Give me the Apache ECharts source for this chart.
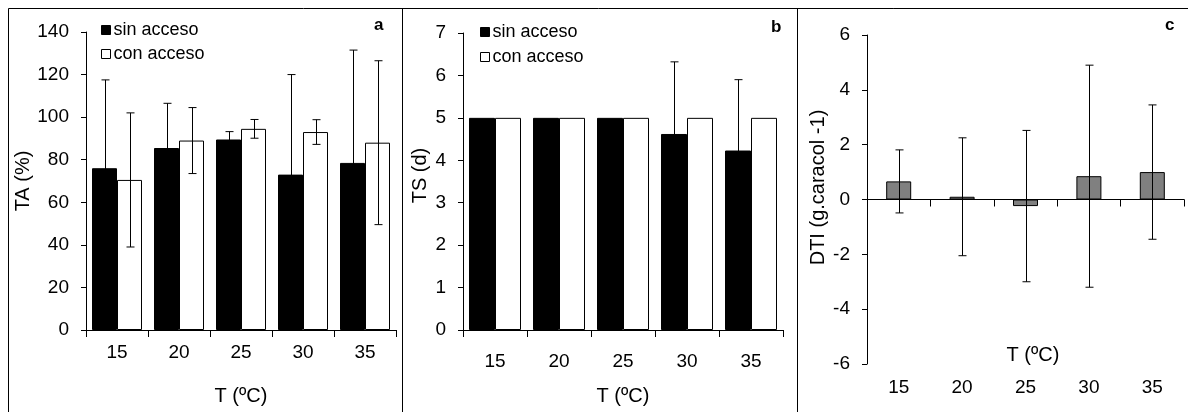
<!DOCTYPE html>
<html>
<head>
<meta charset="utf-8">
<script src="https://cdn.jsdelivr.net/npm/echarts@6/dist/echarts.min.js"></script>
<style>html,body{margin:0;padding:0;background:#fff}#c{width:1188px;height:412px}</style>
</head>
<body>
<div id="c"></div>
<script>
const categories = ['15', '20', '25', '30', '35'];
const seriesNames = ['sin acceso', 'con acceso'];
// Panel a: TA (%)
const taSin = [76, 85.5, 89.5, 73, 78.5];
const taSinSd = [41.5, 21, 3.7, 47, 53];
const taCon = [70.5, 89, 94.5, 93, 88];
const taConSd = [31.5, 15.5, 4.4, 5.8, 38.5];
// Panel b: TS (d)
const tsSin = [5, 5, 5, 4.62, 4.23];
const tsSinSd = [0, 0, 0, 1.7, 1.67];
const tsCon = [5, 5, 5, 5, 5];
const tsConSd = [0, 0, 0, 0, 0];
// Panel c: DTI
const dti = [0.66, 0.1, -0.24, 0.85, 1.0];
const dtiSd = [1.15, 2.15, 2.76, 4.05, 2.45];

const FONT = 'Liberation Sans, Arial, sans-serif';
const chart = echarts.init(document.getElementById('c'), null, {renderer: 'canvas'});

function errRender(offset) {
  return function (params, api) {
    const i = api.value(0), m = api.value(1), s = api.value(2);
    if (!s) return null;
    const top = api.coord([i, m + s]);
    const bot = api.coord([i, m - s]);
    const x = Math.round(top[0] + offset) + 0.5;
    const cap = 4;
    const st = {stroke: '#000', lineWidth: 1};
    return {type: 'group', children: [
      {type: 'line', shape: {x1: x, y1: top[1], x2: x, y2: bot[1]}, style: st},
      {type: 'line', shape: {x1: x - cap, y1: top[1], x2: x + cap, y2: top[1]}, style: st},
      {type: 'line', shape: {x1: x - cap, y1: bot[1], x2: x + cap, y2: bot[1]}, style: st}
    ]};
  };
}
function errData(m, s) { return categories.map((c, i) => [i, m[i], s[i]]); }

const axisLine = {show: true, onZero: true, lineStyle: {color: '#000', width: 1}};
const tickLabel = {color: '#000', fontSize: 19, fontFamily: FONT};
const nameStyle = {color: '#000', fontSize: 20, fontFamily: FONT};

function xCat(gridIndex, margin, extra) {
  return Object.assign({
    type: 'category', gridIndex, data: categories, boundaryGap: true,
    axisLine: axisLine,
    axisTick: {show: true, length: 7, inside: false, lineStyle: {color: '#000'}},
    axisLabel: Object.assign({margin}, tickLabel),
    splitLine: {show: false},
    name: 'T (ºC)', nameLocation: 'middle', nameGap: 56, nameTextStyle: nameStyle
  }, extra || {});
}
function yVal(gridIndex, min, max, interval, name, gap, pad) {
  return {
    type: 'value', gridIndex, min, max, interval,
    axisLine: {show: true, lineStyle: {color: '#000', width: 1}},
    axisTick: {show: true, length: 5, lineStyle: {color: '#000'}},
    axisLabel: Object.assign({margin: 17}, tickLabel),
    splitLine: {show: false},
    name, nameLocation: 'middle', nameRotate: 90, nameGap: gap,
    nameTextStyle: Object.assign({padding: pad}, nameStyle)
  };
}

const blackStyle = {color: '#000', borderColor: '#000', borderWidth: 1};
const whiteStyle = {color: '#fff', borderColor: '#000', borderWidth: 1};
const grayStyle = {color: '#808080', borderColor: '#000', borderWidth: 1};

const legendBase = {
  orient: 'vertical', icon: 'rect', itemWidth: 9, itemHeight: 9, itemGap: 4,
  textStyle: {color: '#000', fontSize: 18, fontFamily: FONT, lineHeight: 20, padding: [0, 0, 0, -2]},
  selectedMode: false,
  data: [
    {name: seriesNames[0], itemStyle: blackStyle},
    {name: seriesNames[1], itemStyle: whiteStyle}
  ]
};

const option = {
  animation: false,
  backgroundColor: '#fff',
  textStyle: {fontFamily: FONT},
  grid: [
    {left: 86, top: 32, width: 310, height: 298, outerBoundsMode: 'none', containLabel: false},
    {left: 463, top: 33, width: 320, height: 297, outerBoundsMode: 'none', containLabel: false},
    {left: 867, top: 35, width: 317, height: 329, outerBoundsMode: 'none', containLabel: false}
  ],
  legend: [
    Object.assign({left: 96, top: 15}, legendBase),
    Object.assign({left: 475, top: 17}, legendBase, {itemGap: 5})
  ],
  xAxis: [
    xCat(0, 13),
    xCat(1, 22),
    xCat(2, 0, {axisLabel: {show: false}, axisTick: {show: true, length: 7, lineStyle: {color: '#000'}},
      name: ''}),
    {type: 'category', gridIndex: 2, data: categories, position: 'bottom',
      axisLine: {show: false, onZero: false}, axisTick: {show: false},
      axisLabel: Object.assign({margin: 14}, tickLabel), splitLine: {show: false}}
  ],
  yAxis: [
    yVal(0, 0, 140, 20, 'TA (%)', 51, [0, 0, 0, 0]),
    yVal(1, 0, 7, 1, 'TS (d)', 33, [0, 0, 0, 12]),
    yVal(2, -6, 6, 2, 'DTI (g.caracol -1)', 39, [0, 0, 0, 24])
  ],
  series: [
    {type: 'bar', name: seriesNames[0], xAxisIndex: 0, yAxisIndex: 0, data: taSin,
      barWidth: 25, barGap: '0%', itemStyle: blackStyle},
    {type: 'bar', name: seriesNames[1], xAxisIndex: 0, yAxisIndex: 0, data: taCon,
      barWidth: 25, barGap: '0%', itemStyle: whiteStyle},
    {type: 'custom', xAxisIndex: 0, yAxisIndex: 0, renderItem: errRender(-12.5), data: errData(taSin, taSinSd), z: 5},
    {type: 'custom', xAxisIndex: 0, yAxisIndex: 0, renderItem: errRender(12.5), data: errData(taCon, taConSd), z: 5},

    {type: 'bar', name: seriesNames[0], xAxisIndex: 1, yAxisIndex: 1, data: tsSin,
      barWidth: 26, barGap: '0%', itemStyle: blackStyle},
    {type: 'bar', name: seriesNames[1], xAxisIndex: 1, yAxisIndex: 1, data: tsCon,
      barWidth: 26, barGap: '0%', itemStyle: whiteStyle},
    {type: 'custom', xAxisIndex: 1, yAxisIndex: 1, renderItem: errRender(-13), data: errData(tsSin, tsSinSd), z: 5},
    {type: 'custom', xAxisIndex: 1, yAxisIndex: 1, renderItem: errRender(13), data: errData(tsCon, tsConSd), z: 5},

    {type: 'bar', name: 'DTI', xAxisIndex: 2, yAxisIndex: 2, data: dti,
      barWidth: 25, itemStyle: grayStyle},
    {type: 'custom', xAxisIndex: 2, yAxisIndex: 2, renderItem: errRender(0), data: errData(dti, dtiSd), z: 5}
  ],
  graphic: [
    {type: 'line', shape: {x1: 8.5, y1: 8.5, x2: 1188, y2: 8.5}, style: {stroke: '#000', lineWidth: 1}},
    {type: 'line', shape: {x1: 8.5, y1: 8.5, x2: 8.5, y2: 412}, style: {stroke: '#000', lineWidth: 1}},
    {type: 'line', shape: {x1: 402.5, y1: 8.5, x2: 402.5, y2: 412}, style: {stroke: '#000', lineWidth: 1}},
    {type: 'line', shape: {x1: 797.5, y1: 8.5, x2: 797.5, y2: 412}, style: {stroke: '#000', lineWidth: 1}},
    {type: 'text', left: 374, top: 17, style: {text: 'a', font: 'bold 17px ' + FONT, fill: '#000'}},
    {type: 'text', left: 771, top: 19, style: {text: 'b', font: 'bold 17px ' + FONT, fill: '#000'}},
    {type: 'text', left: 1165, top: 17, style: {text: 'c', font: 'bold 17px ' + FONT, fill: '#000'}},
    {type: 'text', x: 1033, y: 355, style: {text: 'T (ºC)', font: '20px ' + FONT, fill: '#000',
      align: 'center', verticalAlign: 'middle'}}
  ]
};
chart.setOption(option);
</script>
</body>
</html>
